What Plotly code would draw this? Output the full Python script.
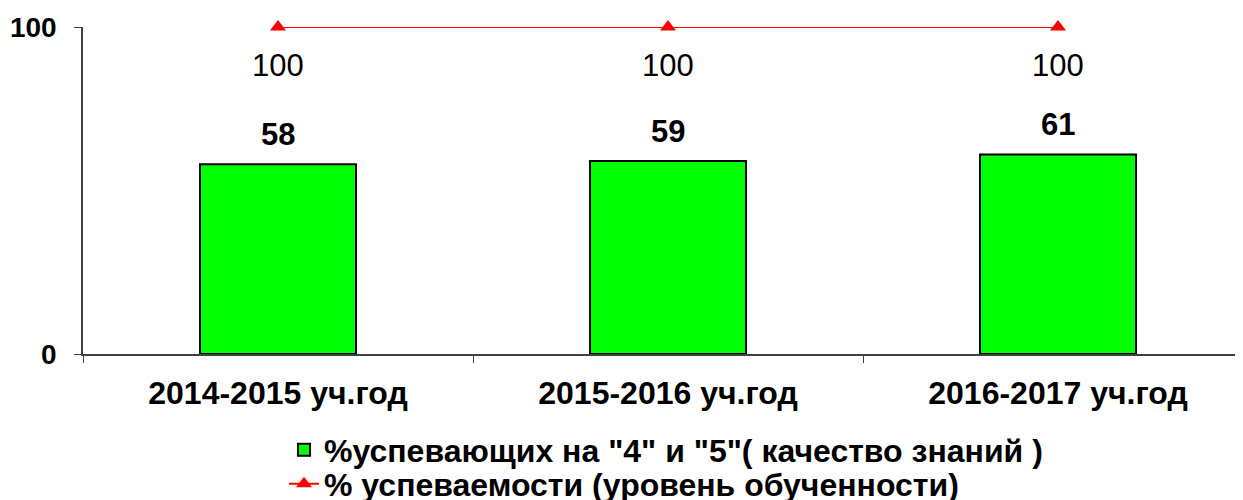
import plotly.graph_objects as go

categories = ["2014-2015 уч.год", "2015-2016 уч.год", "2016-2017 уч.год"]
quality = [58, 59, 61]
progress = [100, 100, 100]
name_quality = '%успевающих на "4" и "5"( качество знаний )'
name_progress = '% успеваемости (уровень обученности)'

FONT = "Liberation Sans, Arial, sans-serif"
W, H = 1243, 500
OFF = 8  # default page body margin

fig = go.Figure()
fig.add_trace(go.Bar(
    x=categories, y=quality, name=name_quality,
    marker=dict(color="#00FF00", line=dict(color="black", width=2)),
    width=0.4, legend="legend",
))
fig.add_trace(go.Scatter(
    x=categories, y=progress, name=name_progress, mode="lines+markers",
    line=dict(color="#FF0000", width=2),
    marker=dict(symbol="triangle-up", size=14, color="#FF0000"),
    cliponaxis=False, legend="legend2",
))

for c, v in zip(categories, quality):
    fig.add_annotation(x=c, y=v, text=f"<b>{v}</b>", showarrow=False,
                       yshift=30, font=dict(size=31, color="black", family=FONT))
for c, v in zip(categories, progress):
    fig.add_annotation(x=c, y=v, text=str(v), showarrow=False,
                       yshift=-38, font=dict(size=31, color="black", family=FONT))

legend_font = dict(size=32, family=FONT, color="black", weight="bold")
fig.update_layout(
    width=W, height=H,
    margin=dict(l=83 - OFF, r=0, t=27 - OFF, b=H - (354 - OFF), autoexpand=False),
    paper_bgcolor="white", plot_bgcolor="white",
    font=dict(family=FONT, color="black"),
    showlegend=True,
    legend=dict(
        xref="container", yref="container",
        x=(284 - OFF) / W, xanchor="left", y=1 - (450 - OFF) / H, yanchor="middle",
        font=legend_font, bgcolor="rgba(0,0,0,0)",
    ),
    legend2=dict(
        xref="container", yref="container",
        x=(284 - OFF) / W, xanchor="left", y=1 - (484 - OFF) / H, yanchor="middle",
        font=legend_font, bgcolor="rgba(0,0,0,0)",
    ),
    bargap=0.6,
)
fig.update_xaxes(
    type="category", range=[-0.5, -0.5 + (W - (83 - OFF)) / 390], tickson="boundaries",
    ticks="outside", ticklen=7, tickcolor="#404040", tickwidth=1,
    showline=True, linecolor="#404040", linewidth=1.5, mirror=False,
    showgrid=False, automargin=False, ticklabelstandoff=10,
    tickfont=dict(size=32, family=FONT, color="black", weight="bold"),
)
fig.update_yaxes(
    range=[0, 100], tickvals=[0, 100], ticktext=["0", "100"],
    ticks="outside", ticklen=7, tickcolor="#404040", tickwidth=1,
    showline=True, linecolor="#404040", linewidth=1.5, mirror=True,
    showgrid=False, zeroline=False, automargin=False, layer="below traces",
    ticklabelstandoff=12,
    tickfont=dict(size=28, family=FONT, color="black", weight="bold"),
)

fig.write_html("out.html")
